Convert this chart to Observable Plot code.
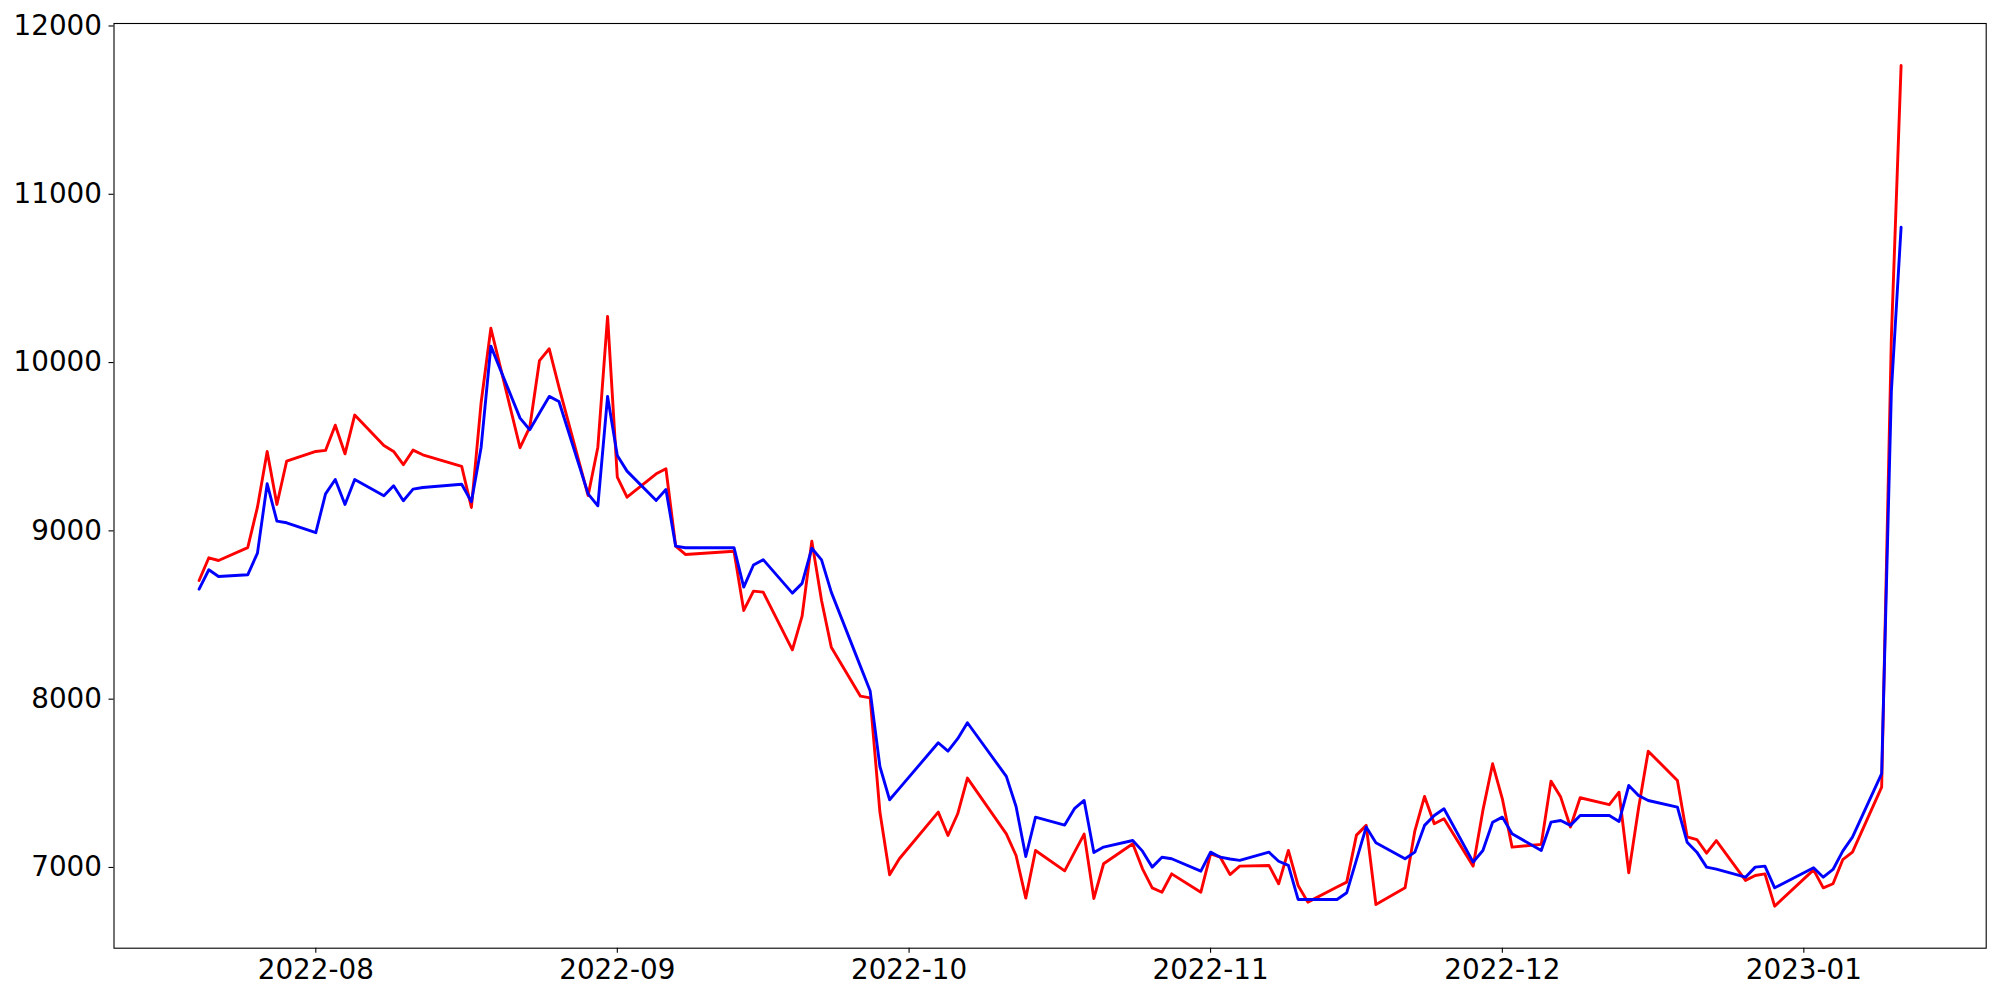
<!DOCTYPE html>
<html>
<head>
<meta charset="utf-8">
<script src="https://cdn.jsdelivr.net/npm/d3@7"></script>
<script src="https://cdn.jsdelivr.net/npm/@observablehq/plot@0.6"></script>
<style>
  html, body { margin: 0; padding: 0; background: #ffffff; }
  #chart svg { display: block; }
</style>
</head>
<body>
<div id="chart"></div>
<script>
// ---- data ----
const dates = [
  "2022-07-20","2022-07-21","2022-07-22","2022-07-25","2022-07-26","2022-07-27","2022-07-28","2022-07-29",
  "2022-08-01","2022-08-02","2022-08-03","2022-08-04","2022-08-05","2022-08-08","2022-08-09","2022-08-10",
  "2022-08-11","2022-08-12","2022-08-16","2022-08-17","2022-08-18","2022-08-19","2022-08-22","2022-08-23",
  "2022-08-24","2022-08-25","2022-08-26","2022-08-29","2022-08-30","2022-08-31","2022-09-01","2022-09-02",
  "2022-09-05","2022-09-06","2022-09-07","2022-09-08","2022-09-13","2022-09-14","2022-09-15","2022-09-16",
  "2022-09-19","2022-09-20","2022-09-21","2022-09-22","2022-09-23","2022-09-26","2022-09-27","2022-09-28",
  "2022-09-29","2022-09-30","2022-10-04","2022-10-05","2022-10-06","2022-10-07","2022-10-11","2022-10-12",
  "2022-10-13","2022-10-14","2022-10-17","2022-10-18","2022-10-19","2022-10-20","2022-10-21","2022-10-24",
  "2022-10-25","2022-10-26","2022-10-27","2022-10-28","2022-10-31","2022-11-01","2022-11-02","2022-11-03",
  "2022-11-04","2022-11-07","2022-11-08","2022-11-09","2022-11-10","2022-11-11","2022-11-14","2022-11-15",
  "2022-11-16","2022-11-17","2022-11-18","2022-11-21","2022-11-22","2022-11-23","2022-11-24","2022-11-25",
  "2022-11-28","2022-11-29","2022-11-30","2022-12-01","2022-12-02","2022-12-05","2022-12-06","2022-12-07",
  "2022-12-08","2022-12-09","2022-12-12","2022-12-13","2022-12-14","2022-12-15","2022-12-16","2022-12-19",
  "2022-12-20","2022-12-21","2022-12-22","2022-12-23","2022-12-26","2022-12-27","2022-12-28","2022-12-29",
  "2023-01-02","2023-01-03","2023-01-04","2023-01-05","2023-01-06","2023-01-09","2023-01-10","2023-01-11"
];

const redSeries = [
  8705, 8840, 8824, 8900, 9141, 9472, 9157, 9414,
  9472, 9478, 9628, 9458, 9688, 9507, 9472, 9393,
  9480, 9452, 9383, 9139, 9763, 10204, 9494, 9616,
  10012, 10082, 9854, 9210, 9497, 10274, 9319, 9200,
  9339, 9369, 8909, 8860, 8879, 8527, 8642, 8636,
  8293, 8493, 8939, 8586, 8309, 8018, 8008, 7329,
  6957, 7052, 7329, 7190, 7319, 7531, 7200, 7071,
  6818, 7101, 6980, 7090, 7198, 6816, 7022, 7141,
  6992, 6879, 6853, 6962, 6853, 7081, 7061, 6958,
  7008, 7012, 6903, 7101, 6893, 6794, 6884, 6913,
  7192, 7250, 6780, 6879, 7216, 7422, 7260, 7289,
  7008, 7339, 7616, 7408, 7121, 7137, 7513, 7418,
  7240, 7414, 7373, 7447, 6968, 7350, 7691, 7517,
  7182, 7166, 7085, 7160, 6923, 6952, 6962, 6770,
  6986, 6879, 6903, 7046, 7091, 7477, 10150, 11765
];

const blueSeries = [
  8654, 8769, 8729, 8739, 8868, 9280, 9058, 9048,
  8989, 9220, 9305, 9157, 9305, 9209, 9268, 9179,
  9248, 9258, 9277, 9173, 9497, 10098, 9670, 9601,
  9700, 9799, 9769, 9220, 9149, 9799, 9448, 9355,
  9181, 9246, 8909, 8900, 8900, 8666, 8797, 8829,
  8630, 8688, 8897, 8828, 8636, 8195, 8048, 7600,
  7402, 7470, 7741, 7691, 7765, 7860, 7541, 7362,
  7065, 7299, 7252, 7349, 7398, 7089, 7121, 7160,
  7097, 7002, 7061, 7052, 6978, 7091, 7061, 7050,
  7042, 7091, 7037, 7012, 6810, 6810, 6810, 6850,
  7045, 7240, 7147, 7052, 7091, 7250, 7309, 7349,
  7032, 7101, 7269, 7299, 7200, 7101, 7269, 7279,
  7250, 7309, 7309, 7273, 7487, 7428, 7398, 7358,
  7150, 7091, 7002, 6990, 6942, 7002, 7008, 6879,
  6998, 6942, 6988, 7097, 7180, 7557, 9830, 10805
];

const yTickValues = [7000, 8000, 9000, 10000, 11000, 12000];
const xTickFormat = "%Y-%m";

// ---- build table ----
const parseDate = d3.utcParse("%Y-%m-%d");
const rows = dates.map((d, i) => ({ date: parseDate(d), red: redSeries[i], blue: blueSeries[i] }));

// matplotlib-like 5% margins
const [x0, x1] = d3.extent(rows, d => d.date);
const xPad = (x1 - x0) * 0.05;
const [y0, y1] = d3.extent(redSeries.concat(blueSeries));
const yPad = (y1 - y0) * 0.05;

const FONT = 27.8;

const chart = Plot.plot({
  width: 2000,
  height: 1000,
  marginLeft: 113.5,
  marginRight: 14.3,
  marginTop: 23,
  marginBottom: 52.3,
  style: {
    fontFamily: "'DejaVu Sans', sans-serif",
    fontSize: FONT + "px",
    background: "#ffffff",
    color: "#000000"
  },
  x: { type: "utc", domain: [new Date(+x0 - xPad), new Date(+x1 + xPad)], axis: null },
  y: { type: "linear", domain: [y0 - yPad, y1 + yPad], axis: null },
  marks: [
    Plot.line(rows, { x: "date", y: "red", stroke: "#ff0000", strokeWidth: 2.9 }),
    Plot.line(rows, { x: "date", y: "blue", stroke: "#0000ff", strokeWidth: 2.9 }),
    Plot.frame({ stroke: "#000000", strokeWidth: 1.1 }),
    Plot.axisX({
      ticks: d3.utcMonth.every(1),
      tickFormat: d3.utcFormat(xTickFormat),
      tickSize: 5,
      tickPadding: 6,
      strokeWidth: 1.1,
      fontSize: FONT,
      label: null
    }),
    Plot.axisY({
      ticks: yTickValues,
      tickFormat: d => String(d),
      tickSize: 5,
      tickPadding: 7,
      strokeWidth: 1.1,
      fontSize: FONT,
      label: null
    })
  ]
});

document.getElementById("chart").appendChild(chart);
</script>
</body>
</html>
